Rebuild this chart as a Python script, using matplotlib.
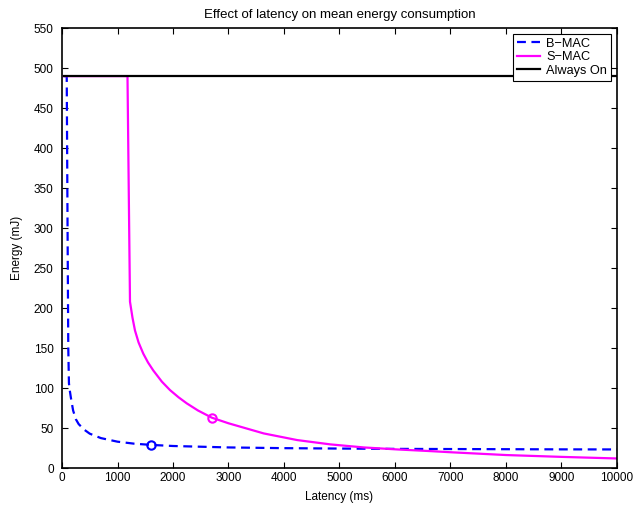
import matplotlib
matplotlib.use('Agg')
import matplotlib.pyplot as plt

# values
bmac_x = [30, 85, 100, 113, 125, 140, 160, 200, 250, 300, 400, 500, 700,
          1000, 1300, 1600, 2000, 3000, 4000, 5000, 6000, 7000, 8000, 9000, 10000]
bmac_y = [490, 490, 300, 150, 106, 97, 88, 72, 61, 55, 48, 43, 37.5,
          33, 30.5, 29, 27.6, 25.8, 24.9, 24.4, 24.0, 23.8, 23.6, 23.4, 23.3]

smac_x = [30, 1180, 1225, 1270, 1315, 1380, 1465, 1550, 1645, 1800, 1946, 2100,
          2246, 2450, 2700, 3000, 3300, 3636, 4238, 4838, 5438, 6040, 6640,
          7000, 8000, 9000, 10000]
smac_y = [490, 490, 208, 188, 172, 157, 143, 132, 122, 108, 97.5, 88.5,
          81, 72, 63, 56, 50, 43.3, 35, 29.6, 25.8, 23.3, 21.2,
          19.8, 16.3, 14, 12]

always_x = [30, 10000]
always_y = [490, 490]

bmac_mark = (1600, 29)
smac_mark = (2700, 63)

xticks = list(range(0, 10001, 1000))
yticks = list(range(0, 551, 50))


def main():
    plt.rcParams['font.family'] = ['Liberation Sans', 'DejaVu Sans']
    plt.rcParams['font.size'] = 8.5

    fig = plt.figure(figsize=(6.36, 5.11), dpi=100)
    ax = fig.add_axes([0.0975, 0.084, 0.8725, 0.861])

    ax.plot(bmac_x, bmac_y, '--', color='#0000ff', lw=1.6, dashes=(4, 2.5),
            label='B\u2212MAC')
    ax.plot(smac_x, smac_y, '-', color='#ff00ff', lw=1.6, label='S\u2212MAC')
    ax.plot(always_x, always_y, '-', color='k', lw=1.6, label='Always On')

    ax.plot(*bmac_mark, 'o', mfc='none', mec='#0000ff', mew=1.5, ms=6)
    ax.plot(*smac_mark, 'o', mfc='none', mec='#ff00ff', mew=1.5, ms=6)

    ax.set_xlim(0, 10000)
    ax.set_ylim(0, 550)
    ax.set_xticks(xticks)
    ax.set_yticks(yticks)
    ax.tick_params(direction='in', top=True, right=True, length=4,
                   width=0.8)
    ax.tick_params(axis='x', pad=3)
    ax.tick_params(axis='y', pad=6)
    for s in ax.spines.values():
        s.set_linewidth(1.2)

    ax.set_title('Effect of latency on mean energy consumption',
                 fontsize=9.5, pad=7)
    ax.set_xlabel('Latency (ms)', labelpad=5)
    ax.set_ylabel('Energy (mJ)', labelpad=8)

    leg = ax.legend(loc='upper right', handlelength=1.8, handletextpad=0.5,
                    borderpad=0.3, labelspacing=0.12, fancybox=False,
                    borderaxespad=0.45, framealpha=1, fontsize=9.2)
    leg.get_frame().set_edgecolor('k')
    leg.get_frame().set_linewidth(0.8)

    fig.savefig('out.png', dpi=100)


if __name__ == '__main__':
    main()
